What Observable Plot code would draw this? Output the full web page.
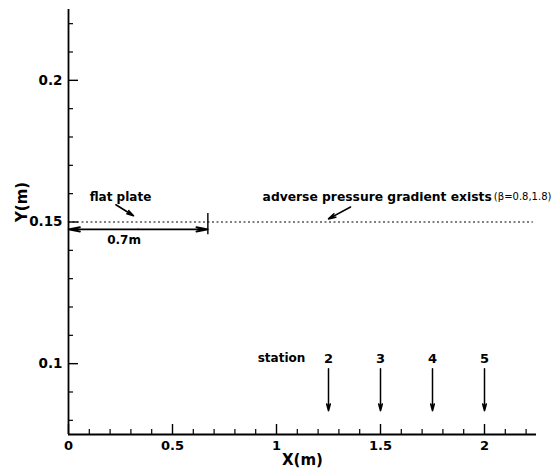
<!DOCTYPE html>
<html>
<head>
<meta charset="utf-8">
<script src="https://cdn.jsdelivr.net/npm/d3@7"></script>
<script src="https://cdn.jsdelivr.net/npm/@observablehq/plot@0.6"></script>
<style>
  body { margin: 0; background: #fff; }
  svg { display: block; }
</style>
</head>
<body>
<div id="chart"></div>
<script>
// Axis ticks
const xMajor = [0, 0.5, 1, 1.5, 2];
const xMinor = [0.1, 0.2, 0.3, 0.4, 0.6, 0.7, 0.8, 0.9, 1.1, 1.2, 1.3, 1.4, 1.6, 1.7, 1.8, 1.9, 2.1, 2.2];
const yMajor = [0.1, 0.15, 0.2];
const yMinor = [0.08, 0.09, 0.11, 0.12, 0.13, 0.14, 0.16, 0.17, 0.18, 0.19, 0.21, 0.22];

// Plate geometry (m)
const plateY = 0.15;
const plateStart = 0;
const plateEnd = 0.67;
const domainEnd = 2.235;
const dimY = 0.1474;
const plateTick = [{x: plateEnd, y1: 0.1457, y2: 0.1532}];

// Measurement stations
const stations = ["2", "3", "4", "5"];
const stationX = [1.25, 1.5, 1.75, 2.0];
const stationArrowTop = 0.0982;
const stationArrowBottom = 0.0834;
const stationLabelY = 0.1018;

const stationArrows = stations.map((s, i) => ({x: stationX[i], y1: stationArrowTop, y2: stationArrowBottom}));
const stationLabels = stations.map((s, i) => ({x: stationX[i], y: stationLabelY, text: s}));

// Annotations
const centeredNotes = [
  {x: 0.25, y: 0.1588, text: "flat plate"},
  {x: 0.267, y: 0.1435, text: "0.7m"},
  {x: 1.024, y: 0.1018, text: "station"}
];
const gradientNote = [{x: 2.035, y: 0.1588, text: "adverse pressure gradient exists"}];
const betaNote = [{x: 2.045, y: 0.1590, text: "(β=0.8,1.8)"}];
const pointers = [
  {x1: 0.228, y1: 0.1561, x2: 0.3125, y2: 0.1522},
  {x1: 1.356, y1: 0.1553, x2: 1.25, y2: 0.1511}
];

const font = "'DejaVu Sans', Verdana, sans-serif";

const chart = Plot.plot({
  width: 554,
  height: 472,
  marginLeft: 68,
  marginRight: 18,
  marginTop: 9,
  marginBottom: 38,
  x: {domain: [0, 2.25]},
  y: {domain: [0.075, 0.225]},
  style: {fontFamily: font, fontWeight: "bold", color: "#000", background: "#fff"},
  marks: [
    // inward ticks
    Plot.axisX(xMinor, {tickSize: -5, tickFormat: () => "", label: null, strokeWidth: 1.2}),
    Plot.axisX(xMajor, {tickSize: -10, tickFormat: () => "", label: null, strokeWidth: 1.4}),
    Plot.axisY(yMinor, {tickSize: -5, tickFormat: () => "", label: null, strokeWidth: 1.2}),
    Plot.axisY(yMajor, {tickSize: -10, tickFormat: () => "", label: null, strokeWidth: 1.4}),
    // tick labels
    Plot.axisX(xMajor, {tickSize: 0, tickPadding: 6, fontSize: 13, tickFormat: d => String(d), label: null}),
    Plot.axisY(yMajor, {tickSize: 0, tickPadding: 6, fontSize: 13.5, tickFormat: d => String(d), label: null}),
    // axis titles
    Plot.text(["X(m)"], {frameAnchor: "bottom", dy: 30, fontSize: 15, fontWeight: "bold"}),
    Plot.text(["Y(m)"], {frameAnchor: "left", dx: -46, rotate: -90, fontSize: 15, fontWeight: "bold"}),
    Plot.ruleX([0], {strokeWidth: 1.8}),
    Plot.ruleY([0.075], {strokeWidth: 1.8}),

    // plate surface / pressure gradient region
    Plot.ruleY([plateY], {x1: plateStart, x2: domainEnd, strokeDasharray: "2,2.5", strokeWidth: 1}),
    Plot.link(plateTick, {x1: "x", x2: "x", y1: "y1", y2: "y2", strokeWidth: 1.4}),
    // 0.7 m dimension arrows
    Plot.arrow([{a: (plateStart + plateEnd) / 2}], {x1: "a", x2: plateStart, y1: dimY, y2: dimY, headLength: 11, headAngle: 22, strokeWidth: 1.6}),
    Plot.arrow([{a: (plateStart + plateEnd) / 2}], {x1: "a", x2: plateEnd, y1: dimY, y2: dimY, headLength: 11, headAngle: 22, strokeWidth: 1.6}),

    // pointers
    Plot.arrow(pointers, {x1: "x1", y1: "y1", x2: "x2", y2: "y2", headLength: 7, headAngle: 30, strokeWidth: 1.6}),

    // station arrows
    Plot.arrow(stationArrows, {x1: "x", x2: "x", y1: "y1", y2: "y2", headLength: 7, headAngle: 30, strokeWidth: 1.5}),
    Plot.text(stationLabels, {x: "x", y: "y", text: "text", fontSize: 13, fontWeight: "bold"}),

    // annotation text
    Plot.text(centeredNotes, {x: "x", y: "y", text: "text", fontSize: 12, fontWeight: "bold"}),
    Plot.text(gradientNote, {x: "x", y: "y", text: "text", textAnchor: "end", fontSize: 12.3, fontWeight: "bold"}),
    Plot.text(betaNote, {x: "x", y: "y", text: "text", textAnchor: "start", fontSize: 10, fontWeight: "normal"})
  ]
});

document.getElementById("chart").appendChild(chart);
</script>
</body>
</html>
